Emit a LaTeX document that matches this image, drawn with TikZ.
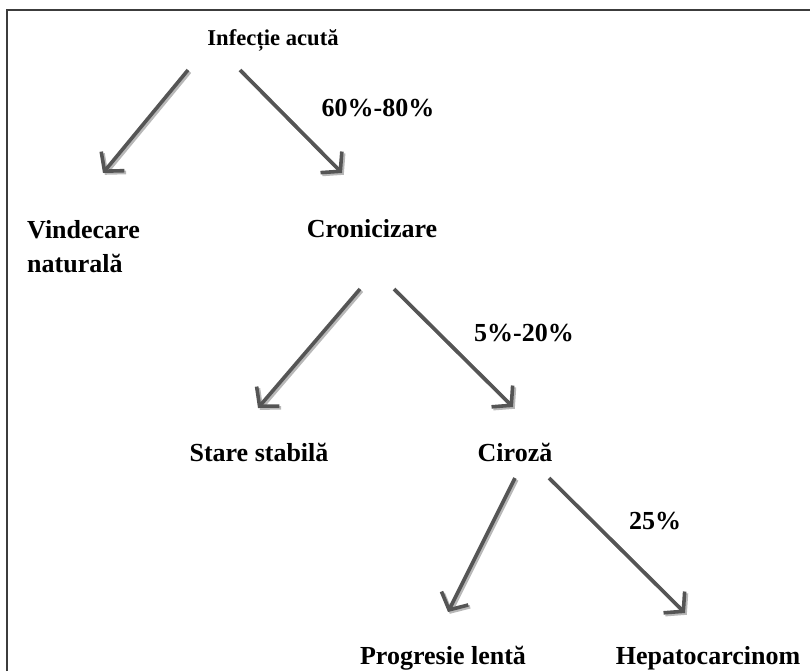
\documentclass[tikz,border=0pt]{standalone}
\usepackage{fontspec}
\setmainfont{Liberation Serif}
\usetikzlibrary{arrows.meta}
\definecolor{ArrowGray}{HTML}{555555}
\definecolor{ShadowGray}{HTML}{B8B8B8}
\definecolor{FrameGray}{HTML}{3C3C3C}

\begin{document}
\begin{tikzpicture}[x=1pt, y=-1pt,
    term/.style={font=\bfseries\fontsize{26}{34}\selectfont, inner sep=0pt, anchor=base},
    flow/.style={draw=ArrowGray, line width=3.6pt, -{Straight Barb[length=13pt, width=30pt]},
        preaction={draw=ShadowGray, line width=3.6pt, -{Straight Barb[length=13pt, width=30pt]},
            transform canvas={shift={(1.8pt,-1.8pt)}}}}]
    \useasboundingbox (0,0) rectangle (810,671);
    % frame
    \draw[FrameGray, line width=1.6pt] (7,671) -- (7,10) -- (810,10);

    % stages
    \node[term, font=\bfseries\fontsize{22.6}{27}\selectfont] (inf) at (273,46) {Infecție acută};
    \node[term, anchor=west, align=left] (vind) at (27,247) {Vindecare\\naturală};
    \node[term] (cron) at (372,237) {Cronicizare};
    \node[term] (stab) at (259,461) {Stare stabilă};
    \node[term] (ciroza) at (515,461) {Ciroză};
    \node[term] (prog) at (443,664) {Progresie lentă};
    \node[term] (hep) at (708,664) {Hepatocarcinom};

    % rates
    \node[term] (p1) at (378,117) {60\%-80\%};
    \node[term] (p2) at (524,341) {5\%-20\%};
    \node[term] (p3) at (655,529) {25\%};

    % arrow ends
    \coordinate (inf-l) at (188,70);
    \coordinate (inf-r) at (240,70);
    \coordinate (vind-t) at (103,173);
    \coordinate (cron-t) at (342,173);
    \coordinate (cron-l) at (360,289);
    \coordinate (cron-r) at (394,289);
    \coordinate (stab-t) at (258,408);
    \coordinate (ciroza-t) at (513,407);
    \coordinate (ciroza-l) at (515,478);
    \coordinate (ciroza-r) at (549,478);
    \coordinate (prog-t) at (448,612);
    \coordinate (hep-t) at (685,613);

    \foreach \s/\e in {inf-l/vind-t, inf-r/cron-t, cron-l/stab-t, cron-r/ciroza-t,
                       ciroza-l/prog-t, ciroza-r/hep-t}
        \draw[flow] (\s) -- (\e);
\end{tikzpicture}
\end{document}
